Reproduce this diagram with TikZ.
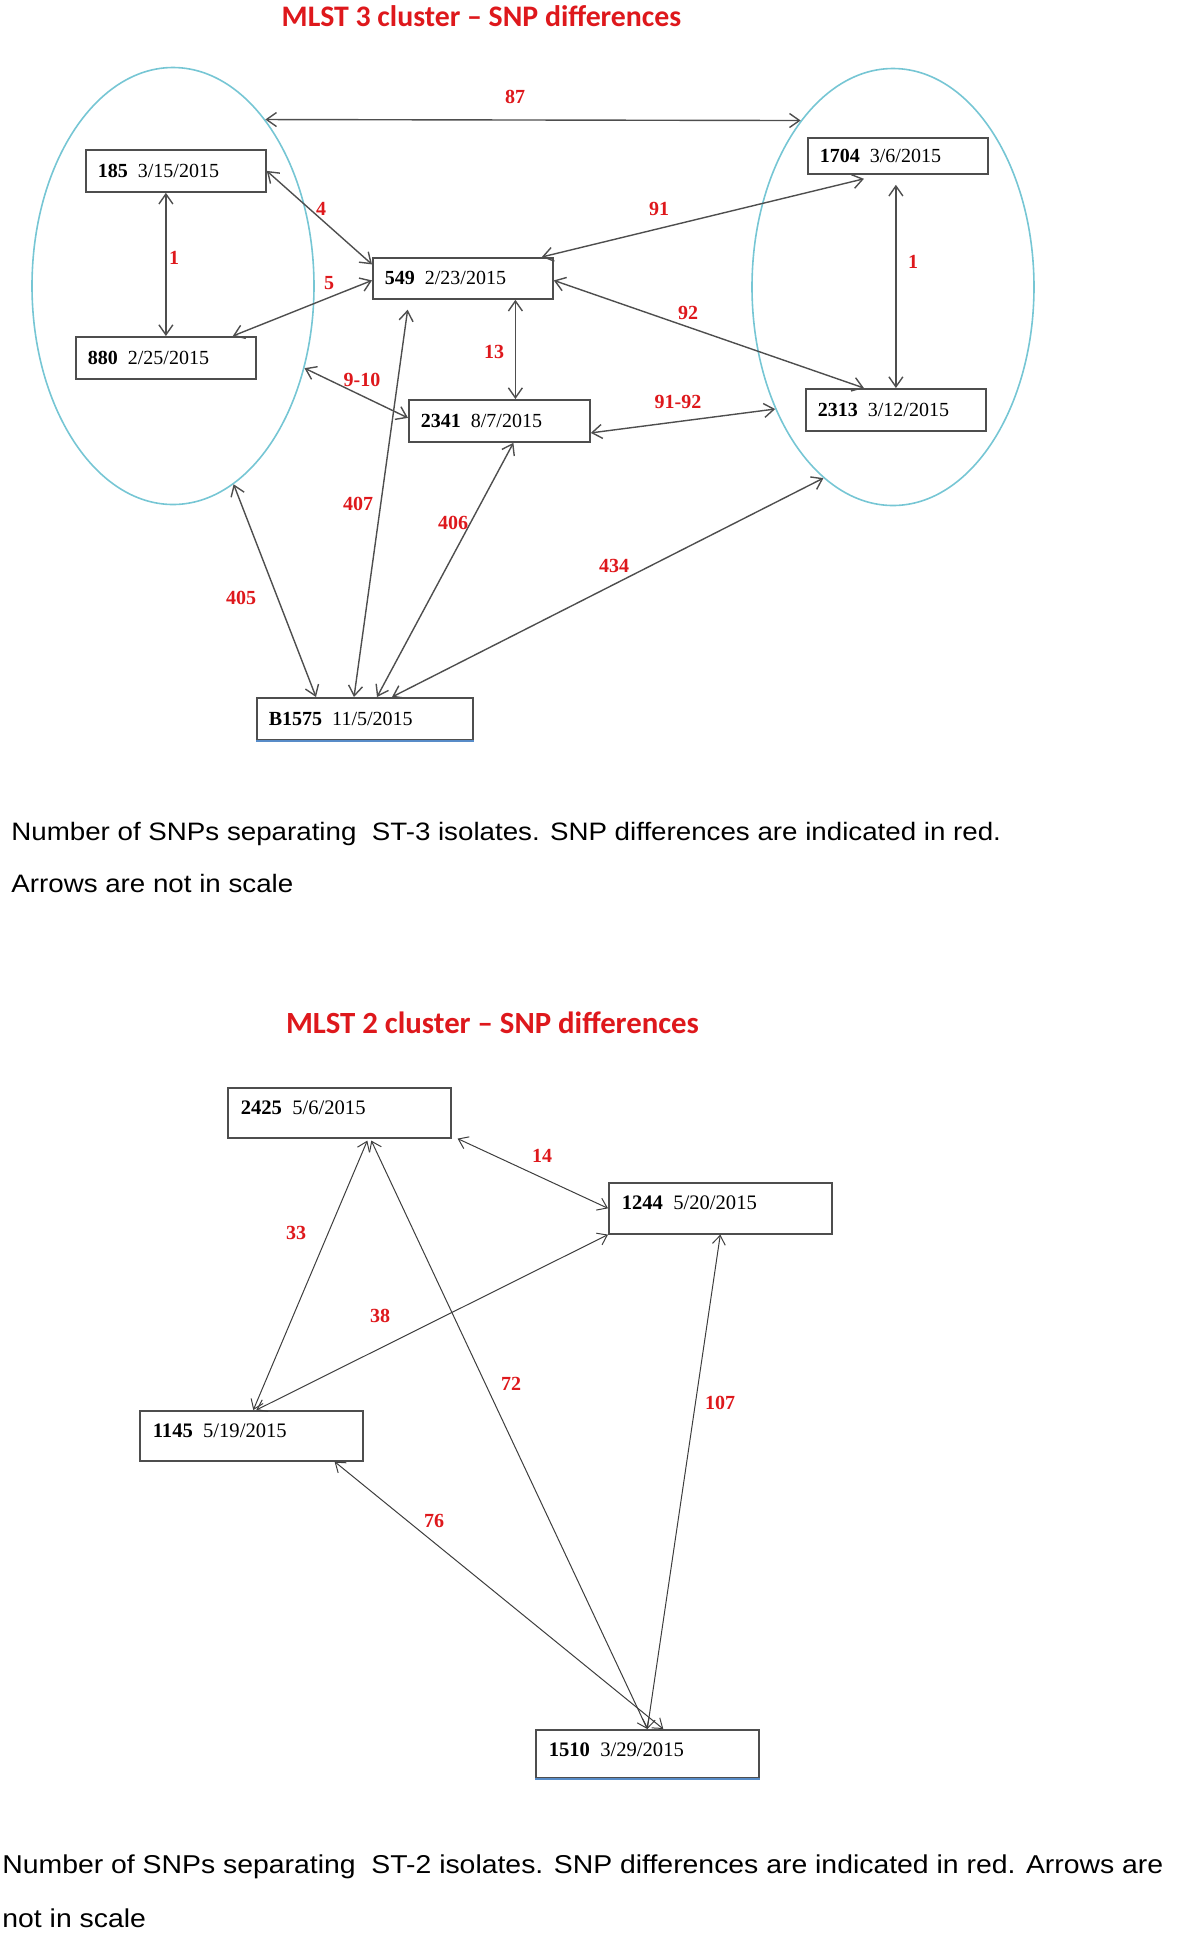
\documentclass[tikz,border=0pt]{standalone}
\usepackage{fontspec}
\setmainfont{Liberation Serif}
\newfontfamily\titlefont{Carlito}
\newfontfamily\capfont[FakeStretch=1.1]{Liberation Sans}
\usetikzlibrary{arrows.meta,shapes.geometric}
\definecolor{snpred}{RGB}{222,24,28}
\definecolor{clustercyan}{RGB}{118,198,212}
\definecolor{linegray}{RGB}{78,78,78}
\definecolor{edgeblue}{RGB}{88,140,200}
\tikzset{
  isolate/.style={draw=linegray, line width=0.9pt, rectangle, anchor=north west,
    inner xsep=6pt, inner ysep=0pt, minimum height=21pt, text width=78pt, align=left,
    font=\fontsize{10}{12}\selectfont},
  isolatetwo/.style={draw=linegray, line width=0.8pt, rectangle, anchor=north west,
    inner xsep=6.5pt, inner ysep=3pt, text height=10.25pt, text depth=8.75pt,
    text width=98.5pt, align=left, font=\fontsize{10.3}{12}\selectfont},
  cluster/.style={ellipse, draw=clustercyan, line width=0.8pt, inner sep=0pt,
    minimum width=141pt, minimum height=218.5pt},
  link/.style={{Straight Barb[length=5pt,width=7pt]}-{Straight Barb[length=5pt,width=7pt]},
    draw=linegray, line width=0.7pt},
  linktwo/.style={{Straight Barb[length=4.5pt,width=6.5pt]}-{Straight Barb[length=4.5pt,width=6.5pt]},
    draw=linegray!80!black, line width=0.5pt},
  snp/.style={text=snpred, inner sep=0pt, font=\fontsize{10}{12}\selectfont\bfseries},
  heading/.style={text=snpred, inner sep=0pt, anchor=base, font=\titlefont\fontsize{14.9}{17}\selectfont\bfseries},
  caption/.style={inner sep=0pt, anchor=base west, font=\capfont\fontsize{12.6}{15}\selectfont},
}
\begin{document}
\begin{tikzpicture}[x=0.5pt, y=-0.5pt]
  \useasboundingbox (0,0) rectangle (1181,1940);

  % ST-3 cluster
  \node[heading] (title3) at (481.5,26) {MLST 3 cluster – SNP differences};
  \node[cluster] (clusterL) at (173,286) {};
  \node[cluster] (clusterR) at (893,287) {};

  \node[isolate] (n185) at (85,149) {\textbf{185}\hspace{0.5em}3/15/2015};
  \node[isolate] (n880) at (75,336) {\textbf{880}\hspace{0.5em}2/25/2015};
  \node[isolate, minimum height=20.5pt] (n549) at (372,257) {\textbf{549}\hspace{0.5em}2/23/2015};
  \node[isolate, minimum height=18pt] (n1704) at (807,137) {\textbf{1704}\hspace{0.5em}3/6/2015};
  \node[isolate] (n2313) at (805,388) {\textbf{2313}\hspace{0.5em}3/12/2015};
  \node[isolate, text width=78.5pt] (n2341) at (408,399) {\textbf{2341}\hspace{0.5em}8/7/2015};
  \node[isolate, text width=96pt] (nB1575) at (256,697) {\textbf{B1575}\hspace{0.5em}11/5/2015};
  \draw[edgeblue, line width=0.9pt] (nB1575.south west) -- (nB1575.south east);

  \coordinate (c13) at ([xshift=8pt]n2341.north);

  \draw[link] (clusterL.61) -- (clusterR.119); % 87
  \draw[link] (n185.south -| n880.north) -- (n880.north); % 1
  \draw[link] (n185.east) -- ([yshift=7pt]n549.west); % 4
  \draw[link] ([xshift=-12pt]n880.north east) -- ([yshift=-1pt]n549.west); % 5
  \draw[link] (c13 |- n549.south) -- (c13); % 13
  \draw[link] ([xshift=-6pt]n549.north east) -- ([xshift=-17pt,yshift=-2pt]n1704.south); % 91
  \draw[link] ([yshift=-1pt]n549.east) -- ([xshift=-16pt]n2313.north); % 92
  \draw[link, shorten <=5pt] (n1704.south -| n2313.north) -- (n2313.north); % 1
  \draw[link] ([yshift=-6pt]n2341.east) -- (clusterR.226); % 91-92
  \draw[link] (clusterL.-32) -- ([yshift=1.5pt]n2341.west); % 9-10
  \draw[link] (clusterL.-73.5) -- ([xshift=30pt]nB1575.north west); % 405
  \draw[link, shorten <=5pt] ([xshift=18.5pt]n549.south west) -- ([xshift=49pt]nB1575.north west); % 407
  \draw[link] ([xshift=7pt]n2341.south) -- ([xshift=60.5pt]nB1575.north west); % 406
  \draw[link] (clusterR.-110) -- ([xshift=68pt]nB1575.north west); % 434

  \foreach \n/\t/\x/\y in {a/87/515/97, b/1/174/258, c/4/321/209, d/5/329/283,
      e/9-10/362/380, f/13/494/352, g/91/659/209, h/92/688/313, i/1/913/262,
      j/91-92/678/402, k/407/358/504, l/406/453/523, m/405/241/598, n/434/614/566}
    \node[snp] (snp\n) at (\x,\y) {\t};

  \node[caption] (cap3a) at (11,840) {Number of SNPs separating\ \ ST-3 isolates. SNP differences are indicated in red.};
  \node[caption] (cap3b) at (11,892) {Arrows are not in scale};

  % ST-2 cluster
  \node[heading, font=\titlefont\fontsize{15.4}{18}\selectfont\bfseries] (title2) at (492.5,1033) {MLST 2 cluster – SNP differences};

  \node[isolatetwo] (n2425) at (227,1087) {\textbf{2425}\hspace{0.5em}5/6/2015};
  \node[isolatetwo, text depth=9.25pt] (n1244) at (608,1182) {\textbf{1244}\hspace{0.5em}5/20/2015};
  \node[isolatetwo] (n1145) at (139,1410) {\textbf{1145}\hspace{0.5em}5/19/2015};
  \node[isolatetwo, text depth=7.75pt] (n1510) at (535,1729) {\textbf{1510}\hspace{0.5em}3/29/2015};
  \draw[edgeblue, line width=0.9pt] (n1510.south west) -- (n1510.south east);

  \draw[linktwo] ([xshift=3pt]n2425.south east) -- (n1244.west); % 14
  \draw[linktwo] ([xshift=14pt,yshift=-1pt]n2425.south) -- ([xshift=1pt]n1145.north); % 33
  \draw[linktwo] ([xshift=16pt,yshift=-1pt]n2425.south) -- (n1510.north); % 72
  \draw[linktwo] (n1244.south west) -- ([xshift=2.5pt]n1145.north); % 38
  \draw[linktwo] (n1244.south) -- (n1510.north); % 107
  \draw[linktwo] ([xshift=-14.5pt]n1145.south east) -- ([xshift=8pt]n1510.north); % 76

  \foreach \n/\t/\x/\y in {o/14/542/1156, p/33/296/1233, q/38/380/1316,
      r/72/511/1384, s/107/720/1403, t/76/434/1521}
    \node[snp] (snp\n) at (\x,\y) {\t};

  \node[caption, font=\capfont\fontsize{12.9}{16}\selectfont] (cap2a) at (2,1873) {Number of SNPs separating\ \ ST-2 isolates. SNP differences are indicated in red. Arrows are};
  \node[caption, font=\capfont\fontsize{12.9}{16}\selectfont] (cap2b) at (2,1927) {not in scale};
\end{tikzpicture}
\end{document}
